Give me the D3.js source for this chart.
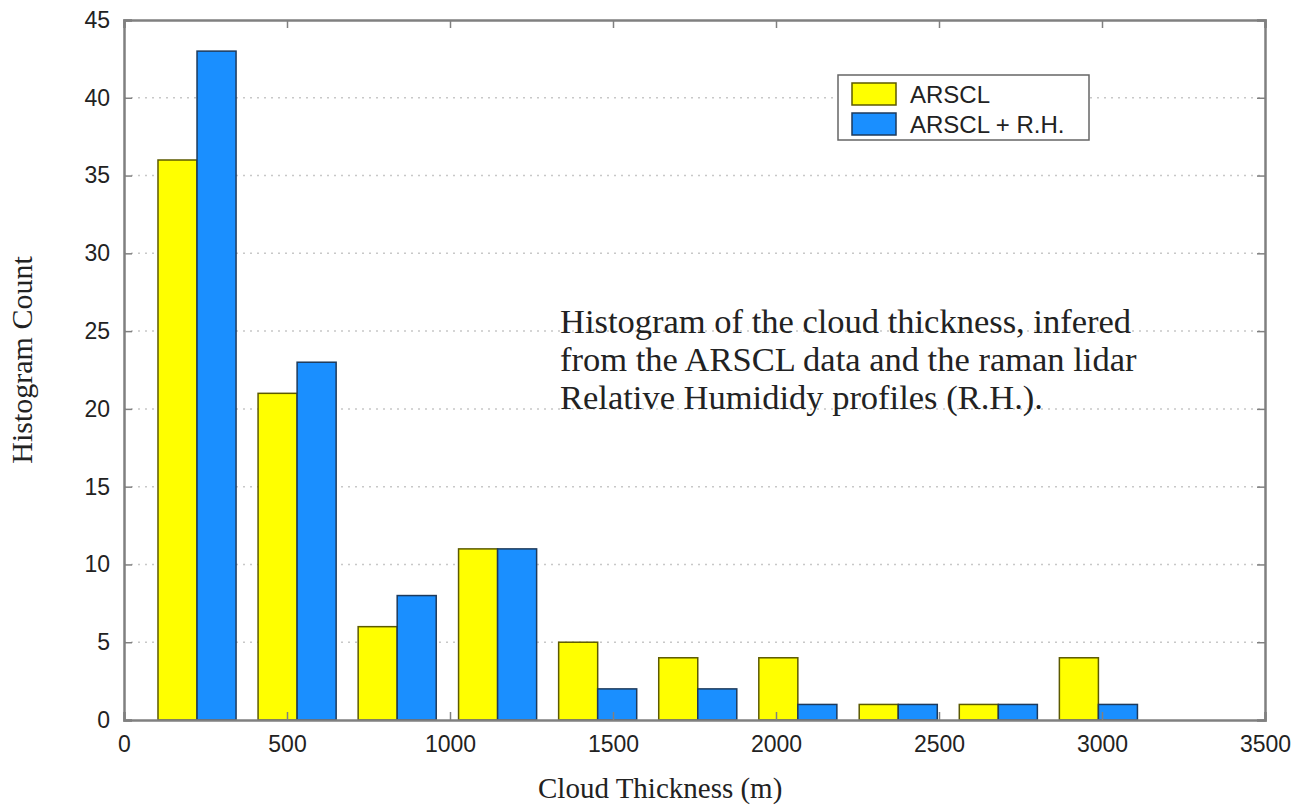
<!DOCTYPE html>
<html>
<head>
<meta charset="utf-8">
<script src="https://cdn.jsdelivr.net/npm/d3@7"></script>
<style>
  body { margin: 0; background: #fff; }
  svg { display: block; }
</style>
</head>
<body>
<svg width="1305" height="810"></svg>
<script>
// bin centres (m) and counts
const binCenters = [224, 531, 838, 1146, 1453, 1760, 2067, 2375, 2682, 2989];
const arscl = [36, 21, 6, 11, 5, 4, 4, 1, 1, 4];
const arsclRH = [43, 23, 8, 11, 2, 2, 1, 1, 1, 1];
const seriesNames = ["ARSCL", "ARSCL + R.H."];
const xTicks = [0, 500, 1000, 1500, 2000, 2500, 3000, 3500];
const yTicks = [0, 5, 10, 15, 20, 25, 30, 35, 40, 45];

let svg = d3.select("svg"),
    margin = { top: 20, right: 40, bottom: 90, left: 124 },
    width = 1265 - margin.left,
    height = 720 - margin.top;

let g = svg.append("g")
    .attr("transform", "translate(" + margin.left + "," + margin.top + ")");

let x = d3.scaleLinear().domain([0, 3500]).range([0, width]);
let y = d3.scaleLinear().domain([0, 45]).range([height, 0]);

const fills = ["#ffff00", "#1a8fff"];
const edges = ["#5c5a00", "#1d3a5c"];

// dotted horizontal grid
g.selectAll(".grid")
    .data(yTicks.filter(d => d > 0 && d < 45))
    .enter().append("line")
    .attr("x1", 0).attr("x2", width)
    .attr("y1", d => y(d)).attr("y2", d => y(d))
    .attr("stroke", "#c8c8c8")
    .attr("stroke-width", 1.5)
    .attr("stroke-dasharray", "2,5");

// bars
let binStep = binCenters[1] - binCenters[0];
let barW = x(binStep * 0.39) - x(0);
let series = [arscl, arsclRH];
series.forEach(function (vals, s) {
    g.selectAll(".bar" + s)
        .data(vals)
        .enter().append("rect")
        .attr("x", (d, i) => x(binCenters[i]) + (s === 0 ? -barW : 0))
        .attr("y", d => y(d))
        .attr("width", barW)
        .attr("height", d => y(0) - y(d))
        .attr("fill", fills[s])
        .attr("stroke", edges[s])
        .attr("stroke-width", 1.5);
});

// axes (box with inward ticks)
let axisColor = "#808080";
let fmt = d3.format("d");
let axBottom = g.append("g").attr("transform", "translate(0," + height + ")")
    .call(d3.axisBottom(x).tickValues(xTicks).tickFormat(fmt).tickSize(-8).tickPadding(14));
let axTop = g.append("g")
    .call(d3.axisTop(x).tickValues(xTicks).tickSize(-8).tickFormat(""));
let axLeft = g.append("g")
    .call(d3.axisLeft(y).tickValues(yTicks).tickFormat(fmt).tickSize(-8).tickPadding(14));
let axRight = g.append("g").attr("transform", "translate(" + width + ",0)")
    .call(d3.axisRight(y).tickValues(yTicks).tickSize(-8).tickFormat(""));

[axBottom, axTop, axLeft, axRight].forEach(function (a) {
    a.select(".domain").attr("stroke", axisColor).attr("stroke-width", 2.5);
    a.selectAll(".tick line").attr("stroke", axisColor).attr("stroke-width", 1.5);
    a.selectAll("text")
        .attr("fill", "#222")
        .style("font-family", "'Liberation Sans', Arial, sans-serif")
        .style("font-size", "23px");
});
axBottom.selectAll("text").attr("dy", "0.8em");

// axis labels
svg.append("text")
    .attr("x", 538)
    .attr("y", 798)
    .style("font-family", "'Liberation Serif', 'Times New Roman', serif")
    .style("font-size", "29px")
    .attr("fill", "#222")
    .text("Cloud Thickness (m)");

svg.append("text")
    .attr("transform", "translate(32," + (margin.top + height / 2 - 10) + ") rotate(-90)")
    .attr("text-anchor", "middle")
    .style("font-family", "'Liberation Serif', 'Times New Roman', serif")
    .style("font-size", "30px")
    .attr("fill", "#222")
    .text("Histogram Count");

// annotation
const note = ["Histogram of the cloud thickness, infered",
    "from the ARSCL data and the raman lidar",
    "Relative Humididy profiles (R.H.)."];
svg.append("g").selectAll("text")
    .data(note)
    .enter().append("text")
    .attr("x", 560)
    .attr("y", (d, i) => 333 + i * 38)
    .style("font-family", "'Liberation Serif', 'Times New Roman', serif")
    .style("font-size", "34.5px")
    .attr("fill", "#222")
    .text(d => d);

// legend
let lg = svg.append("g").attr("transform", "translate(838,75)");
lg.append("rect")
    .attr("width", 251).attr("height", 65)
    .attr("fill", "#fff")
    .attr("stroke", "#666").attr("stroke-width", 1.5);
seriesNames.forEach(function (name, s) {
    lg.append("rect")
        .attr("x", 14).attr("y", 8 + s * 30)
        .attr("width", 44).attr("height", 22)
        .attr("fill", fills[s]).attr("stroke", edges[s]).attr("stroke-width", 1.5);
    lg.append("text")
        .attr("x", 72).attr("y", 28 + s * 30)
        .style("font-family", "'Liberation Sans', Arial, sans-serif")
        .style("font-size", "24px")
        .attr("fill", "#222")
        .text(name);
});
</script>
</body>
</html>
